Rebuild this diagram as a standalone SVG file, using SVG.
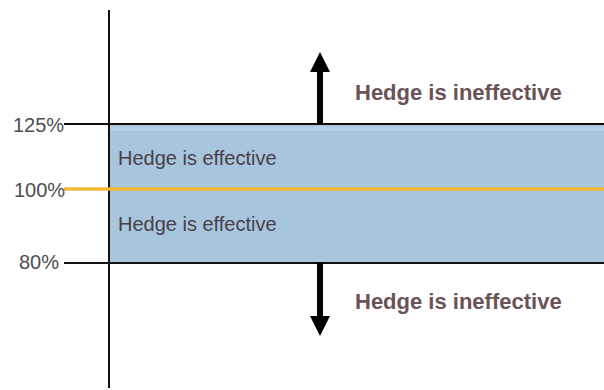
<svg xmlns="http://www.w3.org/2000/svg" width="604" height="390" viewBox="0 0 604 390">
<style>
.lbl{font-family:"Liberation Sans",Arial,sans-serif;font-size:20px;fill:#4d4d4d}
.eff{font-family:"Liberation Sans",Arial,sans-serif;font-size:20px;fill:#4a4048}
.ineff{font-family:"Liberation Sans",Arial,sans-serif;font-size:22px;font-weight:bold;fill:#6a5257}
.ln{stroke:#111;stroke-width:2;fill:none}
</style>
<defs>
<marker id="ah" viewBox="0 0 20 20" refX="10" refY="10" markerWidth="20" markerHeight="20" markerUnits="userSpaceOnUse" orient="auto">
<path d="M0,0 L20,10 L0,20 Z" fill="#000"/>
</marker>
</defs>
<g id="band">
<rect x="109" y="124" width="495" height="139" fill="#a7c5dd"/>
<rect x="109" y="126" width="495" height="5" fill="#b4cfe4"/>
<text class="eff" x="118" y="165">Hedge is effective</text>
<text class="eff" x="118" y="231">Hedge is effective</text>
</g>
<g id="axis">
<line class="ln" x1="109" y1="10" x2="109" y2="388"/>
</g>
<g id="levels">
<line class="ln" x1="64" y1="124" x2="604" y2="124"/>
<line x1="64" y1="189" x2="604" y2="189" stroke="#f2b838" stroke-width="3.5"/>
<line class="ln" x1="64" y1="263" x2="604" y2="263"/>
<text class="lbl" x="13" y="132">125%</text>
<text class="lbl" x="14" y="197">100%</text>
<text class="lbl" x="19" y="269">80%</text>
</g>
<g id="connectors">
<line x1="320" y1="124" x2="320" y2="62" stroke="#000" stroke-width="6" marker-end="url(#ah)"/>
<line x1="320" y1="263" x2="320" y2="326" stroke="#000" stroke-width="6" marker-end="url(#ah)"/>
</g>
<g id="upper">
<text class="ineff" x="355" y="100">Hedge is ineffective</text>
</g>
<g id="lower">
<text class="ineff" x="355" y="309">Hedge is ineffective</text>
</g>
</svg>
